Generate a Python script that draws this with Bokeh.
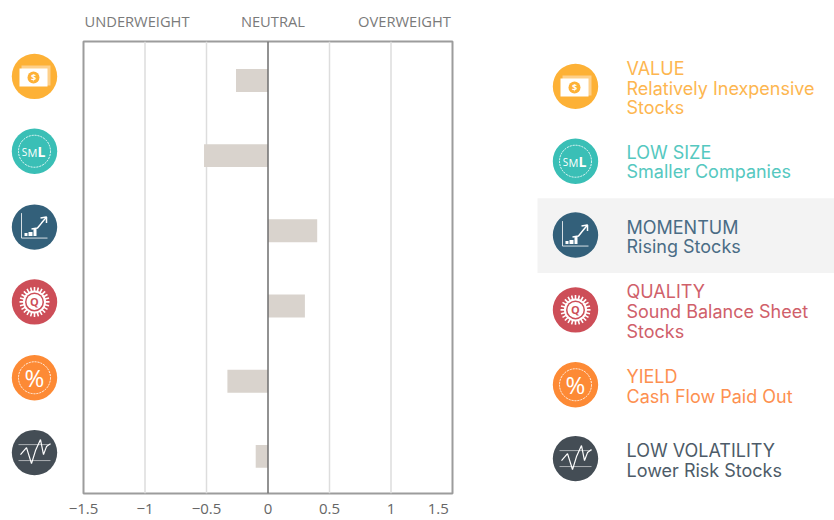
import numpy as np
from bokeh.plotting import figure
from bokeh.layouts import row
from bokeh.models import Range1d, FixedTicker, Span, LinearAxis
from bokeh.core.properties import value
from bokeh.embed import file_html
from bokeh.resources import INLINE

factors = ["VALUE", "LOW SIZE", "MOMENTUM", "QUALITY", "YIELD", "LOW VOLATILITY"]
weights = [-0.26, -0.52, 0.40, 0.30, -0.33, -0.10]
descriptions = [["Relatively Inexpensive", "Stocks"], ["Smaller Companies"], ["Rising Stocks"],
                ["Sound Balance Sheet", "Stocks"], ["Cash Flow Paid Out"], ["Lower Risk Stocks"]]
icon_colors = ["#FDB136", "#3ABFB6", "#33607A", "#CD4E58", "#FD8A35", "#444D55"]
text_colors = ["#FDB650", "#55C8C0", "#4A6C85", "#D0606A", "#FD9050", "#4D5B68"]
x_ticks = [-1.5, -1, -0.5, 0, 0.5, 1, 1.5]
x_tick_labels = {-1.5: "\u22121.5", -1: "\u22121", -0.5: "\u22120.5", 0: "0", 0.5: "0.5", 1: "1",
                 1.5: "1.5" + "\u00a0" * 3}
grid_ticks = [-1, -0.5, 0.5, 1]
zones = {-1.065: "UNDERWEIGHT", 0.04: "NEUTRAL", 1.11: "OVERWEIGHT"}

TXT = "Open Sans"
LEG = "Inter"
BT, BB, H = 41, 26, 520


def icon(f, kind, cx, cy, color):
    f.circle([cx], [cy], radius=22.7, fill_color=color, line_color=None)
    W = "#FFFFFF"

    def txt(s, dx, dy, size, col=W, style="bold", font=TXT):
        f.text([cx + dx], [cy + dy], text=[s], text_align="center", text_baseline="middle",
               text_color=col, text_font_size=f"{size}px", text_font_style=style, text_font=value(font))

    def ring(r=16.0, dash="2 1"):
        f.circle([cx], [cy], radius=r, fill_color=None, line_color=W, line_width=1, line_dash=dash, line_alpha=0.9)

    if kind == 0:
        f.quad(left=[cx - 13], right=[cx + 16], top=[cy - 11], bottom=[cy + 9], fill_color="#FED08A", line_color=None)
        f.quad(left=[cx - 15], right=[cx + 13], top=[cy - 8], bottom=[cy + 10], fill_color=W, line_color=None)
        f.circle([cx - 1], [cy + 1], radius=6, fill_color=color, line_color=None)
        txt("$", -1, 1, 9)
    elif kind == 1:
        ring()
        txt("S", -10, 1, 10, style="normal")
        txt("M", -2, 1, 11, style="normal")
        txt("L", 7, 0, 14)
    elif kind == 2:
        f.line([cx - 13, cx - 13, cx + 13], [cy - 14, cy + 11, cy + 11], line_color=W, line_width=1, line_alpha=0.8)
        f.quad(left=[cx - 10, cx - 6, cx - 1], right=[cx - 7, cx - 2, cx + 2],
               top=[cy + 6, cy + 5, cy + 2], bottom=[cy + 9, cy + 9, cy + 9], fill_color=W, line_color=None)
        f.line([cx - 3, cx + 3, cx + 7, cx + 12], [cy + 2, cy + 1, cy - 4, cy - 10], line_color=W, line_width=1.5)
        f.line([cx + 6, cx + 12, cx + 12], [cy - 9, cy - 10, cy - 4], line_color=W, line_width=1.5)
    elif kind == 3:
        ang = np.linspace(0, 2 * np.pi, 25)[:-1]
        f.multi_line([[cx + 10 * np.cos(a), cx + 15 * np.cos(a)] for a in ang],
                     [[cy + 10 * np.sin(a), cy + 15 * np.sin(a)] for a in ang], line_color=W, line_width=1.6)
        f.circle([cx], [cy], radius=11.5, fill_color=W, line_color=None)
        f.circle([cx], [cy], radius=9.5, fill_color=color, line_color=None)
        f.circle([cx], [cy], radius=8, fill_color=W, line_color=None)
        txt("Q", 0, 0, 11, col=color)
    elif kind == 4:
        ring()
        txt("%", 0, 0, 24, style="normal")
    else:
        f.segment([cx - 16, cx - 16], [cy - 8, cy + 8], [cx + 16, cx + 16], [cy - 8, cy + 8],
                  line_color=W, line_width=1, line_alpha=0.55)
        f.line([cx - 14, cx - 8, cx - 3, cx + 1, cx + 6, cx + 9, cx + 12, cx + 16],
               [cy + 2, cy - 5, cy + 11, cy - 2, cy - 13, cy + 2, cy - 6, cy - 9], line_color=W, line_width=1.2)


def panel(x0, x1, width):
    return figure(width=width, height=H, x_range=Range1d(x0, x1), y_range=Range1d(H - BB, BT),
                  x_axis_type=None, y_axis_type=None, toolbar_location=None, output_backend="svg",
                  min_border_left=0, min_border_right=0, min_border_top=BT, min_border_bottom=BB,
                  outline_line_color=None)


# left column of icons
left = panel(0, 64, 64)
for i, (y, c) in enumerate(zip([76, 151, 227, 302, 378, 453], icon_colors)):
    icon(left, i, 34, y, c)

# main chart
p = figure(width=396, height=H, x_range=Range1d(-1.5, 1.5), y_range=Range1d(5.494, -0.518),
           toolbar_location=None, output_backend="svg", y_axis_type=None, x_axis_type=None,
           min_border_left=19, min_border_right=8, min_border_top=BT, min_border_bottom=BB,
           outline_line_color="#9C9C9C", outline_line_width=2)
for t in grid_ticks:
    p.add_layout(Span(location=t, dimension="height", line_color="#DDDDDD", line_width=1.5, level="underlay"))
p.hbar(y=list(range(len(weights))), left=0, right=weights, height=0.305, fill_color="#D9D3CD", line_color=None)
p.add_layout(Span(location=0, dimension="height", line_color="#6E6E6E", line_width=1.5))

bottom = LinearAxis(ticker=FixedTicker(ticks=x_ticks), major_label_overrides=x_tick_labels,
                    axis_line_color=None, major_tick_line_color=None, minor_tick_line_color=None,
                    major_tick_out=0, major_tick_in=0, minor_tick_out=0, minor_tick_in=0,
                    major_label_standoff=4, major_label_text_color="#666666",
                    major_label_text_font=TXT, major_label_text_font_size="15px")
p.add_layout(bottom, "below")
top = LinearAxis(ticker=FixedTicker(ticks=list(zones)), major_label_overrides=zones,
                 axis_line_color=None, major_tick_line_color=None, minor_tick_line_color=None,
                 major_tick_out=0, major_tick_in=0, minor_tick_out=0, minor_tick_in=0,
                 major_label_standoff=11, major_label_text_color="#7A7A7A",
                 major_label_text_font=TXT, major_label_text_font_size="14.7px")
p.add_layout(top, "above")

# right column: legend
right = panel(460, 834, 374)
right.quad(left=[537], right=[834], top=[198], bottom=[273], fill_color="#F3F3F3", line_color=None)
icon_y = [86, 161, 235, 310, 385, 459]
head_y = [68, 152, 227, 292, 377, 451]
for i, name in enumerate(factors):
    icon(right, i, 575, icon_y[i], icon_colors[i])
    lines = [name] + descriptions[i]
    ys = [head_y[i] + k * 19.7 for k in range(len(lines))]
    right.text([626] * len(lines), ys, text=lines, text_baseline="middle", text_color=text_colors[i],
               text_font=value(LEG), text_font_size="18px")

open("out.html", "w").write(file_html(row(left, p, right), INLINE))
